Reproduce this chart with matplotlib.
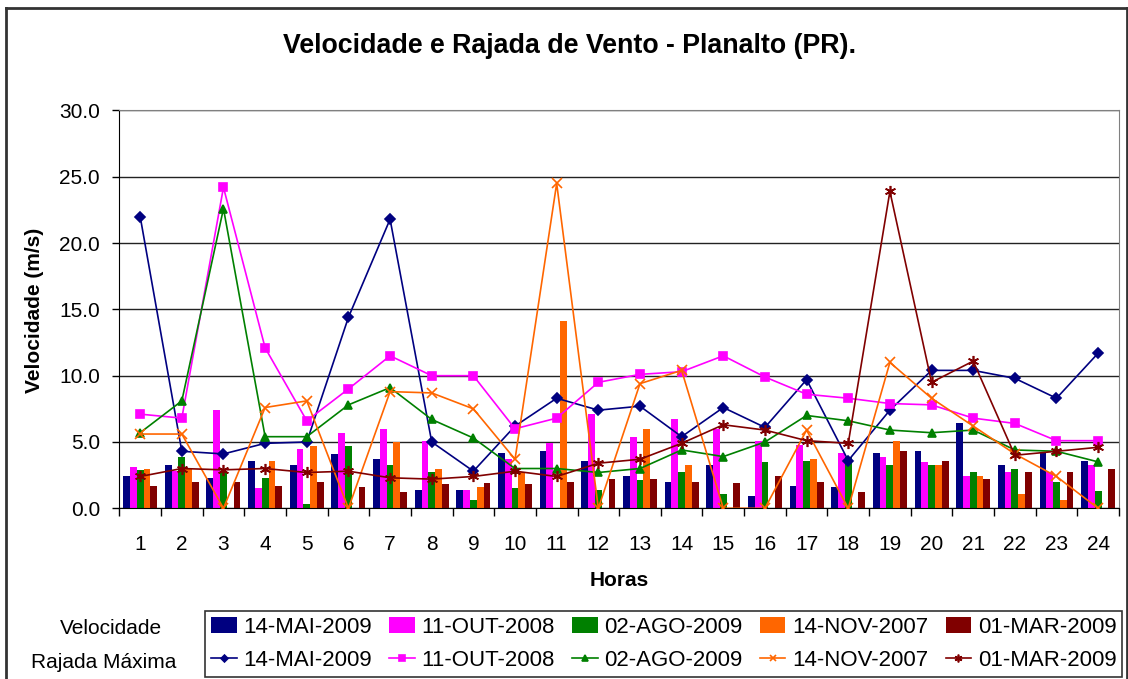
"""
Velocidade e rajada de vento por hora - Planalto (PR).
Barras: velocidade media; linhas: rajada maxima.
"""

import matplotlib.pyplot as plt
import numpy as np
from matplotlib.lines import Line2D

plt.rcParams["font.family"] = ["Liberation Sans", "DejaVu Sans"]

hours = list(range(1, 25))
dates = ["14-MAI-2009", "11-OUT-2008", "02-AGO-2009", "14-NOV-2007", "01-MAR-2009"]

# velocidade (m/s), barras
vel_mai = [2.4, 3.3, 2.3, 3.6, 3.3, 4.1, 3.7, 1.4, 1.4, 4.2, 4.3, 3.6,
           2.4, 2.0, 3.3, 0.9, 1.7, 1.6, 4.2, 4.3, 6.4, 3.3, 4.2, 3.6]
vel_out = [3.1, 2.8, 7.4, 1.5, 4.5, 5.7, 6.0, 5.1, 1.4, 3.7, 4.9, 7.1,
           5.4, 6.7, 6.0, 5.1, 4.8, 4.2, 3.9, 3.5, 2.4, 2.7, 2.7, 3.3]
vel_ago = [2.9, 3.9, 2.7, 2.3, 0.3, 4.7, 3.3, 2.7, 0.6, 1.5, 0.0, 1.4,
           2.1, 2.7, 1.1, 3.5, 3.6, 3.9, 3.3, 3.3, 2.7, 3.0, 2.0, 1.3]
vel_nov = [3.0, 3.0, 0.0, 3.6, 4.7, 0.0, 5.0, 3.0, 1.6, 2.7, 14.1, 0.0,
           6.0, 3.3, 0.0, 0.0, 3.7, 0.0, 5.1, 3.3, 2.4, 1.1, 0.6, 0.0]
vel_mar = [1.7, 2.0, 2.0, 1.7, 2.0, 1.6, 1.2, 1.8, 1.9, 1.8, 2.0, 2.2,
           2.2, 2.0, 1.9, 2.4, 2.0, 1.2, 4.3, 3.6, 2.2, 2.7, 2.7, 3.0]

# rajada maxima (m/s), linhas
raj_mai = [22.0, 4.3, 4.1, 4.9, 5.0, 14.4, 21.8, 5.0, 2.8, 6.2, 8.3, 7.4,
           7.7, 5.4, 7.6, 6.1, 9.7, 3.6, 7.4, 10.4, 10.4, 9.8, 8.3, 11.7]
raj_out = [7.1, 6.8, 24.2, 12.1, 6.6, 9.0, 11.5, 10.0, 10.0, 6.0, 6.8, 9.5,
           10.1, 10.3, 11.5, 9.9, 8.6, 8.3, 7.9, 7.8, 6.8, 6.4, 5.1, 5.1]
raj_ago = [5.7, 8.1, 22.6, 5.4, 5.4, 7.8, 9.1, 6.7, 5.3, 3.0, 3.0, 2.7,
           3.0, 4.4, 3.9, 5.0, 7.0, 6.6, 5.9, 5.7, 5.9, 4.4, 4.3, 3.5]
raj_nov = [5.6, 5.6, 0.0, 7.6, 8.1, 0.0, 8.8, 8.7, 7.5, 3.7, 24.5, 0.0,
           9.4, 10.4, 0.0, 0.0, 5.9, 0.0, 11.0, 8.3, 6.2, 4.1, 2.4, 0.0]
raj_mar = [2.4, 3.0, 2.9, 3.0, 2.7, 2.8, 2.3, 2.2, 2.4, 2.8, 2.4, 3.4,
           3.7, 4.9, 6.3, 5.9, 5.1, 4.9, 23.9, 9.5, 11.1, 4.0, 4.3, 4.6]


def main():
    colors = ["#000080", "#FF00FF", "#008000", "#FF6600", "#800000"]
    markers = ["D", "s", "^", "x", (6, 2, 0)]
    msizes = [5, 6, 6, 7, 8]
    velocidade = [vel_mai, vel_out, vel_ago, vel_nov, vel_mar]
    rajada = [raj_mai, raj_out, raj_ago, raj_nov, raj_mar]

    fig = plt.figure(figsize=(11.28, 6.79), dpi=100)
    ax = fig.add_axes([0.1058, 0.2514, 0.8862, 0.5859])

    x = np.array(hours)
    width = 0.163
    handles = []
    for k in range(5):
        bars = ax.bar(x + (k - 2) * width, velocidade[k], width=width,
                      color=colors[k], zorder=2)
        handles.append(bars)
    for k in range(5):
        line, = ax.plot(x, rajada[k], color=colors[k], lw=1.2,
                        marker=markers[k], markersize=msizes[k],
                        markeredgewidth=1.2, zorder=3)
        handles.append(line)

    ax.set_xlim(0.5, 24.5)
    ax.set_ylim(0, 30)
    ax.set_yticks(np.arange(0, 30.1, 5))
    ax.set_yticklabels([f"{v:.1f}" for v in np.arange(0, 30.1, 5)])
    ax.set_xticks(x)
    ax.set_xticklabels([str(h) for h in hours])
    ax.set_xticks(np.arange(0.5, 24.6, 1), minor=True)
    ax.tick_params(axis="x", which="major", length=0, pad=19, labelsize=15)
    ax.tick_params(axis="x", which="minor", length=6, width=1, direction="out")
    ax.tick_params(axis="y", length=5, width=1, direction="out", pad=9,
                   labelsize=15)
    ax.grid(axis="y", color="#222222", lw=1, zorder=0)
    ax.set_axisbelow(True)
    for side in ["top", "right"]:
        ax.spines[side].set_color("#808080")
    for side in ["left", "bottom"]:
        ax.spines[side].set_color("black")

    fig.text(0.505, 0.932, "Velocidade e Rajada de Vento - Planalto (PR).",
             ha="center", va="center", fontsize=19.3, fontweight="bold")
    fig.text(0.031, 0.543, "Velocidade (m/s)", rotation=90, ha="center",
             va="center", fontsize=15, fontweight="bold")
    fig.text(0.549, 0.145, "Horas", ha="center", va="center", fontsize=15,
             fontweight="bold")
    fig.text(0.098, 0.075, "Velocidade", ha="center", va="center", fontsize=15)
    fig.text(0.092, 0.025, "Rajada Máxima", ha="center", va="center",
             fontsize=15)

    # bar and line legend entries interleaved so each column is one date
    order = []
    labels = []
    for k in range(5):
        order += [handles[k], handles[k + 5]]
        labels += [dates[k], dates[k]]
    leg = fig.legend(order, labels, ncol=5, loc="lower left",
                     bbox_to_anchor=(0.182, 0.003, 0.813, 0.096),
                     mode="expand", fontsize=16, frameon=True, fancybox=False,
                     edgecolor="black", borderaxespad=0, handlelength=1.15,
                     handletextpad=0.3, columnspacing=0.6, labelspacing=0.56,
                     borderpad=0.27, markerscale=0.7)
    leg.get_frame().set_linewidth(1.2)

    # moldura da figura (a borda inferior fica fora da imagem)
    fx0, fx1, fy1 = 6 / 1128, 1127 / 1128, 1 - 7.5 / 679
    for xs, ys in [([fx0, fx0], [0, fy1]), ([fx0, fx1], [fy1, fy1]),
                   ([fx1, fx1], [fy1, 0])]:
        fig.add_artist(Line2D(xs, ys, color="#333333", lw=2))

    fig.savefig("out.png", dpi=100)
    plt.close(fig)


if __name__ == "__main__":
    main()
